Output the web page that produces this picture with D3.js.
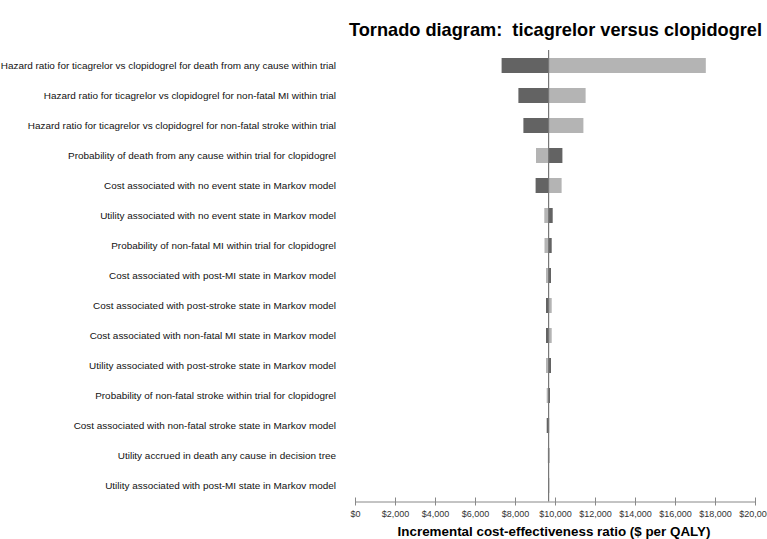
<!DOCTYPE html>
<html><head><meta charset="utf-8">
<script src="https://cdn.jsdelivr.net/npm/d3@7"></script>
<style>body{margin:0;background:#fff}svg{display:block}</style>
</head><body>
<script>
const categories = [
  "Hazard ratio for ticagrelor vs clopidogrel for death from any cause within trial",
  "Hazard ratio for ticagrelor vs clopidogrel for non-fatal MI within trial",
  "Hazard ratio for ticagrelor vs clopidogrel for non-fatal stroke within trial",
  "Probability of death from any cause within trial for clopidogrel",
  "Cost associated with no event state in Markov model",
  "Utility associated with no event state in Markov model",
  "Probability of non-fatal MI within trial for clopidogrel",
  "Cost associated with post-MI state in Markov model",
  "Cost associated with post-stroke state in Markov model",
  "Cost associated with non-fatal MI state in Markov model",
  "Utility associated with post-stroke state in Markov model",
  "Probability of non-fatal stroke within trial for clopidogrel",
  "Cost associated with non-fatal stroke state in Markov model",
  "Utility accrued in death any cause in decision tree",
  "Utility associated with post-MI state in Markov model"
];
// ICER at the two ends of each parameter's range (dark series / light series)
const darkValues  = [7330, 8170, 8420, 10370, 9030, 9885, 9835, 9800, 9550, 9550, 9800, 9750, 9585, 9720, 9710];
const lightValues = [17540, 11530, 11420, 9050, 10330, 9465, 9475, 9550, 9835, 9835, 9550, 9585, 9715, 9640, 9650];
const baseCase = 9680;
const tickValues = [0,2000,4000,6000,8000,10000,12000,14000,16000,18000,20000];

const W = 767, H = 539;
const svg = d3.select("body").append("svg").attr("width", W).attr("height", H);

const x = d3.scaleLinear().domain([0, 20000]).range([355, 755]);
const y = d3.scaleBand().domain(categories).range([50.5, 500.5]).paddingInner(0.5).paddingOuter(0.25);

svg.append("text").attr("x", 762).attr("y", 36).attr("text-anchor", "end")
  .attr("font-family", "Liberation Sans, Arial, sans-serif").attr("font-weight", "bold")
  .attr("font-size", 18.2).attr("fill", "#000").attr("xml:space","preserve")
  .text("Tornado diagram:  ticagrelor versus clopidogrel");

const g = svg.append("g");
categories.forEach((c, i) => {
  const yc = y(c);
  const h = y.bandwidth();
  const segs = [[darkValues[i], "#636363"], [lightValues[i], "#b4b4b4"]];
  segs.forEach(([v, col]) => {
    g.append("rect")
      .attr("x", Math.min(x(v), x(baseCase)))
      .attr("width", Math.abs(x(v) - x(baseCase)))
      .attr("y", yc).attr("height", h).attr("fill", col);
  });
  svg.append("text").attr("x", 336).attr("y", yc + h/2).attr("dy", "0.35em")
    .attr("text-anchor", "end").attr("font-family", "Liberation Sans, Arial, sans-serif")
    .attr("font-size", 9.95).attr("fill", "#111").text(c);
});

// base case line
svg.append("line").attr("x1", x(baseCase)).attr("x2", x(baseCase))
  .attr("y1", 50).attr("y2", 501.5).attr("stroke", "#777").attr("stroke-width", 1.2);

// axis
const axis = d3.axisBottom(x).tickValues(tickValues)
  .tickFormat(d => "$" + d3.format(",")(d)).tickSize(4).tickSizeOuter(0).tickPadding(5);
const ag = svg.append("g").attr("transform", "translate(0,501.5)").call(axis);
ag.select(".domain").attr("stroke", "#888");
ag.selectAll(".tick line").attr("stroke", "#888").attr("y1", -4);
ag.selectAll(".tick text").attr("font-family", "Liberation Sans, Arial, sans-serif")
  .attr("font-size", 9).attr("fill", "#333");

svg.append("text").attr("x", 554).attr("y", 536).attr("text-anchor", "middle")
  .attr("font-family", "Liberation Sans, Arial, sans-serif").attr("font-weight", "bold")
  .attr("font-size", 13.4).attr("fill", "#000")
  .text("Incremental cost-effectiveness ratio ($ per QALY)");
</script>
</body></html>
